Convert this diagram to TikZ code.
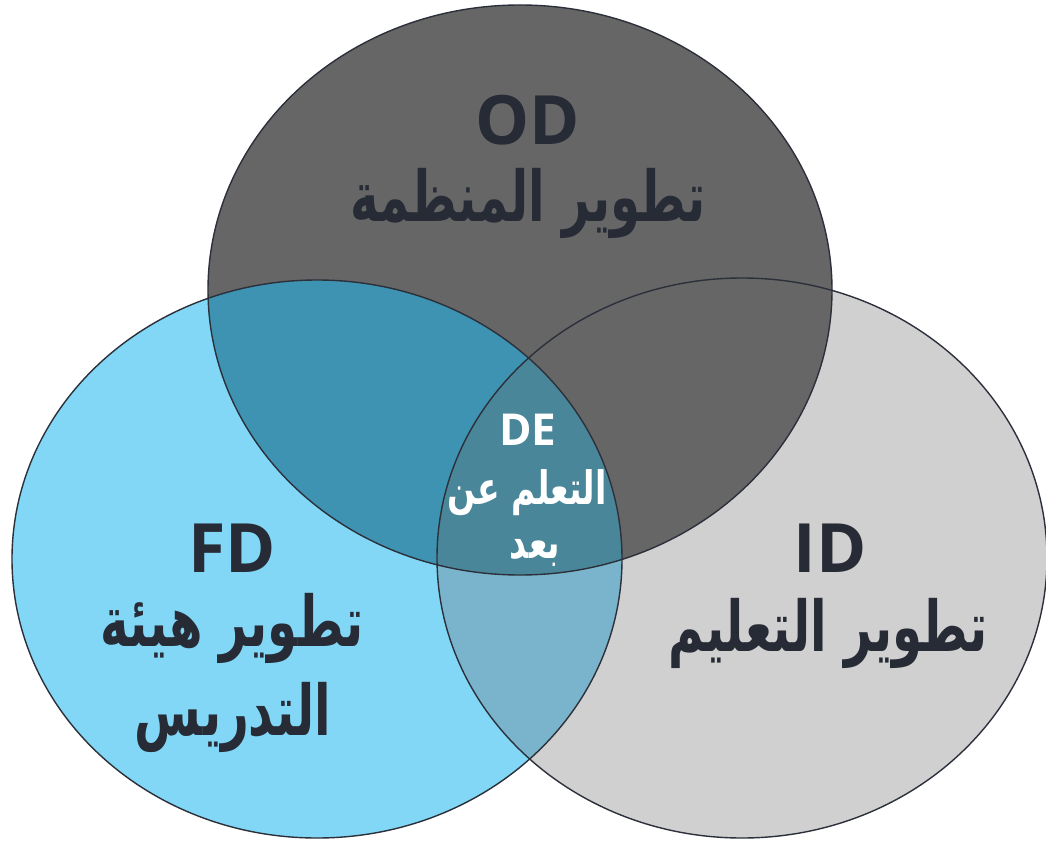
\documentclass[tikz,border=0pt]{standalone}
\usepackage{fontspec}
\usepackage{graphicx}
\TeXXeTstate=1
\newfontfamily\latinfont{Open Sans}
\newfontfamily\arabicfont[Script=Arabic]{DejaVu Sans}
\definecolor{topc}{HTML}{666666}
\definecolor{rightc}{HTML}{D0D0D0}
\definecolor{leftc}{HTML}{82D7F6}
\definecolor{lt}{HTML}{3E92B2}
\definecolor{lr}{HTML}{7AB4CC}
\definecolor{ctr}{HTML}{4A8699}
\definecolor{edge}{HTML}{2B303A}
\definecolor{txt}{HTML}{262B35}
\tikzset{
  lat/.style={font=\latinfont\bfseries\fontsize{68}{70}\selectfont, text=txt, inner sep=0pt},
  arb/.style={font=\arabicfont\bfseries\fontsize{70}{72}\selectfont, text=txt, inner sep=0pt},
  latw/.style={font=\latinfont\bfseries\fontsize{44}{46}\selectfont, text=white, inner sep=0pt},
  arbw/.style={font=\arabicfont\bfseries\fontsize{46}{48}\selectfont, text=white, inner sep=0pt},
  outline/.style={draw=edge, line width=1.4pt}
}
\def\topE{(520,290) ellipse [x radius=312pt, y radius=285pt]}
\def\leftE{(317,559) ellipse [x radius=305pt, y radius=279pt]}
\def\rightE{(742,558) ellipse [x radius=305pt, y radius=280pt]}
\begin{document}
\begin{tikzpicture}[x=1pt,y=-1pt]
\useasboundingbox (0,0) rectangle (1046,842);
\fill[white] (0,0) rectangle (1046,842);
\fill[rightc] \rightE;
\fill[topc] \topE;
\fill[leftc] \leftE;
\begin{scope}
  \clip \leftE;
  \fill[lt] \topE;
  \fill[lr] \rightE;
  \clip \topE;
  \fill[ctr] \rightE;
\end{scope}
\draw[outline] \rightE;
\draw[outline] \topE;
\draw[outline] \leftE;
\node[lat] (od) at (528,120) {OD};
\node[arb] (odar) at (528,203) {\scalebox{0.69}[1]{\beginR تطوير المنظمة\endR}};
\node[lat] (fd) at (232,548) {FD};
\node[arb] (fdar1) at (232,628) {\scalebox{0.69}[1]{\beginR تطوير هيئة\endR}};
\node[arb] (fdar2) at (233,717) {\scalebox{0.69}[1]{\beginR التدريس\endR}};
\node[lat] (id) at (830,548) {ID};
\node[arb] (idar) at (828,633) {\scalebox{0.69}[1]{\beginR تطوير التعليم\endR}};
\node[latw] (de) at (528,430) {DE};
\node[arbw] (dear1) at (527,493) {\scalebox{0.72}[1]{\beginR التعلم عن\endR}};
\node[arbw] (dear2) at (535,553) {\scalebox{0.72}[1]{\beginR بعد\endR}};
\end{tikzpicture}
\end{document}
